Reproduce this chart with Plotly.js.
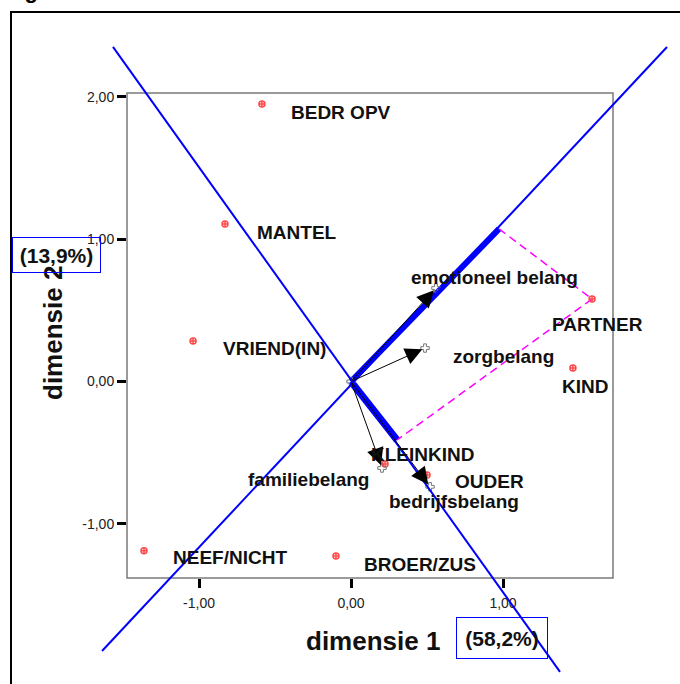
<!DOCTYPE html>
<html>
<head>
<meta charset="utf-8">
<script src="https://cdn.plot.ly/plotly-3.0.1.min.js"></script>
<style>
  html, body { margin: 0; padding: 0; background: #ffffff; }
  #chart { width: 680px; height: 684px; }
</style>
</head>
<body>
<div id="chart"></div>
<script>
// Category points (relationship types), dimension 1 / dimension 2 scores
const categories = ['BEDR OPV', 'MANTEL', 'VRIEND(IN)', 'NEEF/NICHT', 'BROER/ZUS',
                    'KLEINKIND', 'OUDER', 'PARTNER', 'KIND'];
const catDim1 = [-0.586, -0.829, -1.039, -1.362, -0.099, 0.224, 0.500, 1.586, 1.460];
const catDim2 = [ 1.950,  1.107,  0.285, -1.190, -1.226, -0.580, -0.657, 0.580, 0.095];

// Variable vectors (interests), drawn as arrows from the origin
const variables = ['emotioneel belang', 'zorgbelang', 'familiebelang', 'bedrijfsbelang'];
const varDim1 = [0.559, 0.487, 0.204, 0.520];
const varDim2 = [0.657, 0.235, -0.608, -0.740];

// Long axes through the origin along the emotioneel / bedrijfs directions
const axisAx = [-1.638, 2.079];
const axisAy = [-1.894, 2.351];
const axisBx = [-1.566, 1.375];
const axisBy = [ 2.351, -2.041];

// Projection of PARTNER onto both axes
const projX = [0.974, 0.303];
const projY = [1.072, -0.411];
const projPoint = 'PARTNER';

// Tick labels
const tickVals = [-1, 0, 1, 2];
const tickText = ['-1,00', '0,00', '1,00', '2,00'];

// Axis titles and inertia per dimension
const dimTitles = ['dimensie 1', 'dimensie 2'];
const inertia = ['(58,2%)', '(13,9%)'];

// ---- geometry of the page ----
const W = 680, H = 684;
const ORIGIN = {x: 351, y: 381.5};
const PX_X = 152, PX_Y = 142.3;
const BOX = {left: 127, right: 613, top: 93, bottom: 578};
const toX = px => (px - ORIGIN.x) / PX_X;
const toY = py => (ORIGIN.y - py) / PX_Y;

// label offsets in pixels relative to the marks
const catShift = [[27, -8], [30, -9], [28, -8], [27, -7], [26, -9], [-16, 10], [26, -7], [-42, -26], [-13, -19]];
const varShift = [[-27, 11], [26, -8], [-11, -11], [-43, -15]];
const varAnchor = ['left', 'left', 'right', 'left'];

const FONT = 'Liberation Sans, Arial, sans-serif';
const LABEL_SIZE = 19;
const pIdx = categories.indexOf(projPoint);

const traces = [
  // long axes, on the full-page axes so they run past the plot frame
  {x: axisAx, y: axisAy, xaxis: 'x2', yaxis: 'y2', mode: 'lines',
   line: {color: '#0000ff', width: 2}, hoverinfo: 'skip'},
  {x: axisBx, y: axisBy, xaxis: 'x2', yaxis: 'y2', mode: 'lines',
   line: {color: '#0000ff', width: 2}, hoverinfo: 'skip'},
  // thick projection segments
  {x: [0, projX[0]], y: [0, projY[0]], mode: 'lines',
   line: {color: '#0000ff', width: 6}, hoverinfo: 'skip'},
  {x: [0, projX[1]], y: [0, projY[1]], mode: 'lines',
   line: {color: '#0000ff', width: 7}, hoverinfo: 'skip'},
  // dashed perpendiculars from PARTNER
  {x: [projX[0], catDim1[pIdx], projX[1]], y: [projY[0], catDim2[pIdx], projY[1]], mode: 'lines',
   line: {color: '#ff00ff', width: 1.5, dash: '8px,5px'}, hoverinfo: 'skip'},
  // category points
  {x: catDim1, y: catDim2, mode: 'markers', text: categories,
   marker: {symbol: 'circle-cross-open', size: 6, color: '#ff4a4a', line: {width: 1.5}}},
  // variable end points and origin
  {x: varDim1.concat([0]), y: varDim2.concat([0]), mode: 'markers',
   marker: {symbol: 'cross-open', size: 7, color: '#777777', line: {width: 1}}}
];

const annotations = [];
// vectors
variables.forEach((v, i) => {
  annotations.push({x: varDim1[i], y: varDim2[i], ax: 0, ay: 0, xref: 'x', yref: 'y',
    axref: 'x', ayref: 'y', text: '', showarrow: true, arrowhead: 2, arrowsize: 3.4,
    arrowwidth: 1, arrowcolor: '#000000', standoff: 3});
  annotations.push({x: varDim1[i], y: varDim2[i], xref: 'x', yref: 'y', text: '<b>' + v + '</b>',
    showarrow: false, xanchor: varAnchor[i], yanchor: 'middle',
    xshift: varShift[i][0], yshift: varShift[i][1],
    font: {family: FONT, size: LABEL_SIZE, color: '#111111'}});
});
// category labels
categories.forEach((c, i) => {
  annotations.push({x: catDim1[i], y: catDim2[i], xref: 'x', yref: 'y', text: '<b>' + c + '</b>',
    showarrow: false, xanchor: 'left', yanchor: 'middle',
    xshift: catShift[i][0], yshift: catShift[i][1],
    font: {family: FONT, size: LABEL_SIZE, color: '#111111'}});
});
// axis titles
annotations.push({xref: 'paper', yref: 'paper', x: 373 / W, y: 1 - 641 / H,
  xanchor: 'center', yanchor: 'middle', text: '<b>' + dimTitles[0] + '</b>', showarrow: false,
  font: {family: FONT, size: 26, color: '#111111'}});
annotations.push({xref: 'paper', yref: 'paper', x: 53 / W, y: 1 - 333 / H,
  xanchor: 'center', yanchor: 'middle', textangle: -90, text: '<b>' + dimTitles[1] + '</b>',
  showarrow: false, font: {family: FONT, size: 26, color: '#111111'}});
// inertia boxes
annotations.push({xref: 'paper', yref: 'paper', x: 502 / W, y: 1 - 638 / H,
  xanchor: 'center', yanchor: 'middle',
  text: '<b>' + inertia[0] + '</b>', showarrow: false, width: 90, height: 40,
  borderpad: 0, borderwidth: 1, bordercolor: '#0000ff',
  font: {family: FONT, size: 21, color: '#111111'}});
annotations.push({xref: 'paper', yref: 'paper', x: 56.5 / W, y: 1 - 255 / H,
  xanchor: 'center', yanchor: 'middle',
  text: '<b>' + inertia[1] + '</b>', showarrow: false, width: 87, height: 34,
  borderpad: 0, borderwidth: 1, bordercolor: '#0000ff',
  font: {family: FONT, size: 21, color: '#111111'}});
// figure caption, cut by the top of the page
annotations.push({xref: 'paper', yref: 'paper', x: 3 / W, y: 1 + 10 / H,
  xanchor: 'left', yanchor: 'middle', text: '<b>Figuur 1</b>', showarrow: false,
  font: {family: FONT, size: 22, color: '#000000'}});

const tickFont = {family: FONT, size: 14, color: '#222222'};
const layout = {
  width: W, height: H,
  margin: {l: 0, r: 0, t: 0, b: 0},
  paper_bgcolor: '#ffffff', plot_bgcolor: 'rgba(0,0,0,0)',
  showlegend: false,
  xaxis: {domain: [BOX.left / W, BOX.right / W], range: [toX(BOX.left), toX(BOX.right)],
    tickvals: tickVals.slice(0, 3), ticktext: tickText.slice(0, 3),
    ticks: 'outside', ticklen: 9, tickwidth: 3, tickcolor: '#000000',
    ticklabelstandoff: 3,
    showgrid: false, zeroline: false, showline: false, tickfont: tickFont,
    automargin: false, fixedrange: true},
  yaxis: {domain: [1 - BOX.bottom / H, 1 - BOX.top / H], range: [toY(BOX.bottom), toY(BOX.top)],
    tickvals: tickVals, ticktext: tickText,
    ticks: 'outside', ticklen: 9, tickwidth: 3, tickcolor: '#000000',
    showgrid: false, zeroline: false, showline: false, tickfont: tickFont,
    automargin: false, fixedrange: true},
  xaxis2: {domain: [0, 1], range: [toX(0), toX(W)], anchor: 'y2', visible: false, fixedrange: true},
  yaxis2: {domain: [0, 1], range: [toY(H), toY(0)], anchor: 'x2', visible: false, fixedrange: true},
  shapes: [
    // plot frame
    {type: 'rect', xref: 'paper', yref: 'paper', x0: BOX.left / W, x1: BOX.right / W,
     y0: 1 - BOX.bottom / H, y1: 1 - BOX.top / H, line: {color: '#7a7a7a', width: 1.5}, layer: 'below'},
    // page border
    {type: 'rect', xref: 'paper', yref: 'paper', x0: 11 / W, x1: 1.05,
     y0: -0.05, y1: 1 - 12 / H, line: {color: '#000000', width: 2}}
  ],
  annotations: annotations
};

Plotly.newPlot('chart', traces, layout, {displayModeBar: false, staticPlot: true});
</script>
</body>
</html>
